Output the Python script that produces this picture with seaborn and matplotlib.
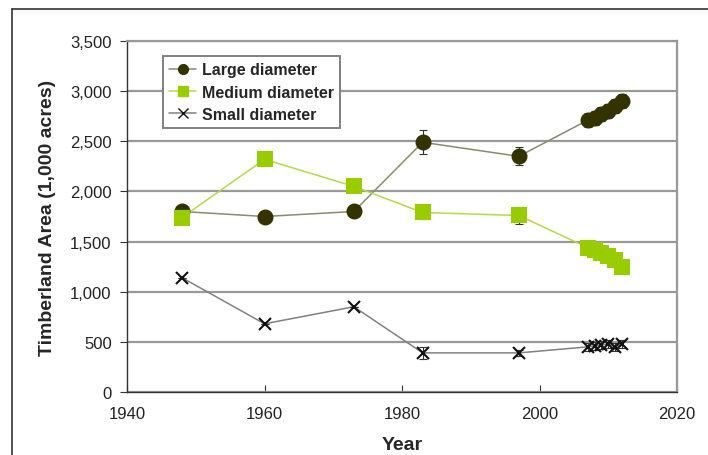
import seaborn as sns
import matplotlib.pyplot as plt
import pandas as pd
from matplotlib.ticker import FuncFormatter, MultipleLocator
from matplotlib.lines import Line2D

# Datos
years = [1948, 1960, 1973, 1983, 1997, 2007, 2008, 2009, 2010, 2011, 2012]
large = [1800, 1750, 1800, 2490, 2350, 2710, 2730, 2770, 2800, 2850, 2900]
medium = [1740, 2320, 2050, 1790, 1760, 1440, 1420, 1390, 1360, 1320, 1250]
small = [1140, 680, 850, 390, 390, 450, 460, 470, 480, 450, 480]
large_err = [0, 0, 0, 120, 90, 70, 70, 70, 70, 70, 70]
medium_err = [0, 0, 0, 60, 80, 50, 50, 50, 50, 50, 50]
small_err = [0, 0, 0, 60, 30, 40, 40, 40, 40, 40, 40]

sns.set_style("white")
plt.rcParams['font.family'] = ['Liberation Sans', 'DejaVu Sans']

fig = plt.figure(figsize=(7.08, 4.56), dpi=100)
ax = fig.add_axes([127 / 708, 1 - 393 / 456, 550 / 708, 351 / 456])

# marco exterior
fig.add_artist(Line2D([12 / 708, 1], [1 - 10 / 456, 1 - 10 / 456], color='#333333', lw=1.2))
fig.add_artist(Line2D([12 / 708, 12 / 708], [0, 1 - 10 / 456], color='#333333', lw=1.2))

series = [
    ('Large diameter', large, large_err, '#333300', '#8a8a70', 'o', 10),
    ('Medium diameter', medium, medium_err, '#99cc00', '#b5d94a', 's', 10),
    ('Small diameter', small, small_err, '#111111', '#808080', 'x', 9),
]

handles = []
for name, vals, err, mcol, lcol, mk, ms in series:
    df = pd.DataFrame({'year': years, 'value': vals})
    sns.lineplot(data=df, x='year', y='value', ax=ax, color=lcol, lw=1.1,
                 zorder=3)
    ax.errorbar(years, vals, yerr=err, fmt='none',
                ecolor='#333333', elinewidth=0.8, capsize=3, capthick=0.8, zorder=4)
    ax.plot(years, vals, linestyle='none', marker=mk, markersize=ms,
            color=mcol, markeredgecolor=mcol, markeredgewidth=1.5, zorder=5)
    handles.append(Line2D([], [], color=lcol, lw=1.1, marker=mk, markersize=7,
                          markerfacecolor=mcol, markeredgecolor=mcol, label=name))

ax.set_xlim(1940, 2020)
ax.set_ylim(0, 3500)
ax.xaxis.set_major_locator(MultipleLocator(20))
ax.yaxis.set_major_locator(MultipleLocator(500))
ax.yaxis.set_major_formatter(FuncFormatter(lambda v, p: f'{int(v):,}'))
ax.grid(axis='y', color='#999999', lw=1.6, zorder=0)
ax.set_axisbelow(True)

for s in ['top', 'right']:
    ax.spines[s].set_color('#999999')
    ax.spines[s].set_linewidth(1.6)
for s in ['left', 'bottom']:
    ax.spines[s].set_color('#333333')
    ax.spines[s].set_linewidth(1.0)

ax.tick_params(axis='y', direction='out', length=5, width=0.8, colors='#333333',
               labelsize=12, labelcolor='#222222', left=True, pad=6)
ax.tick_params(axis='x', direction='in', length=5, width=0.8, colors='#333333',
               labelsize=12, labelcolor='#222222', bottom=True, pad=10)

ax.set_xlabel('Year', fontsize=14, fontweight='bold', labelpad=11)
ax.set_ylabel('Timberland Area (1,000 acres)', fontsize=14, fontweight='bold', labelpad=10)

leg = ax.legend(handles=handles, loc='upper left', bbox_to_anchor=(0.065, 0.957),
                prop={'weight': 'bold', 'size': 11.5}, frameon=True,
                fancybox=False, edgecolor='#808080', framealpha=1,
                handlelength=1.7, handletextpad=0.35, borderpad=0.4,
                labelspacing=0.45, borderaxespad=0)
leg.get_frame().set_linewidth(1.4)

fig.savefig('out.png', dpi=100)
